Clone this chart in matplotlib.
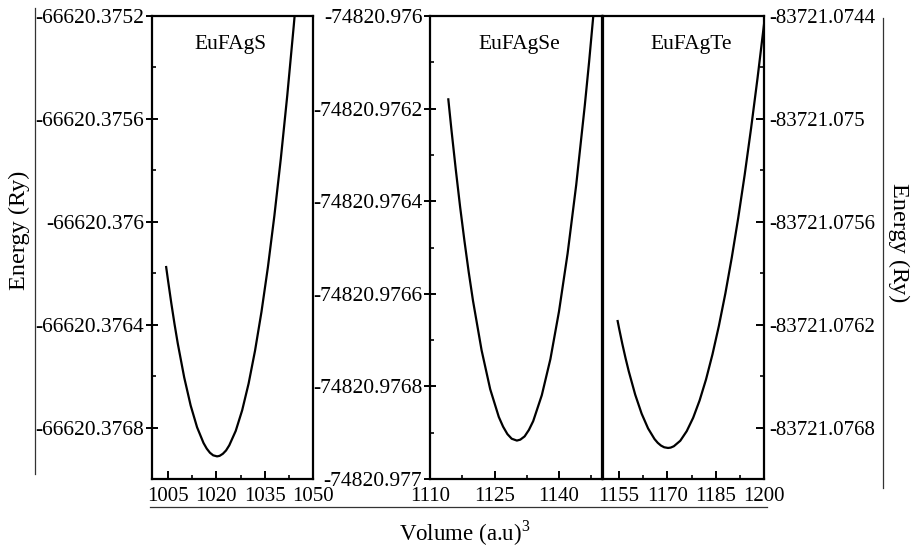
import matplotlib
matplotlib.use('Agg')
import matplotlib.pyplot as plt
from matplotlib.ticker import FixedLocator, FuncFormatter
from matplotlib.lines import Line2D

plt.rcParams['font.family'] = ['Liberation Serif', 'DejaVu Serif']
plt.rcParams['mathtext.fontset'] = 'custom'
plt.rcParams['mathtext.rm'] = 'Liberation Serif'

# EuFAgS
s_volume = [1004.4, 1005, 1006, 1007, 1008, 1010, 1012, 1014, 1016, 1017, 1018, 1019,
            1020.2, 1021, 1022, 1023, 1024, 1026, 1028, 1030, 1032, 1034, 1036, 1038,
            1040, 1042, 1044, 1044.4]
s_energy = [-66620.376176, -66620.376230, -66620.376317, -66620.376398, -66620.376473,
            -66620.376605, -66620.376714, -66620.376799, -66620.376860, -66620.376882,
            -66620.376898, -66620.376908, -66620.376912, -66620.376910, -66620.376902,
            -66620.376889, -66620.376869, -66620.376813, -66620.376733, -66620.376629,
            -66620.376501, -66620.376350, -66620.376176, -66620.375977, -66620.375755,
            -66620.375510, -66620.375241, -66620.375184]

# EuFAgSe
se_volume = [1114.26, 1115, 1116, 1117, 1118, 1119, 1120, 1122, 1124, 1126, 1127, 1128,
             1129, 1130.2, 1131, 1132, 1133, 1134, 1136, 1138, 1140, 1142, 1144, 1146,
             1147, 1148.2]
se_energy = [-74820.976180, -74820.976247, -74820.976332, -74820.976412, -74820.976485,
             -74820.976553, -74820.976615, -74820.976722, -74820.976806, -74820.976866,
             -74820.976887, -74820.976903, -74820.976913, -74820.976917, -74820.976915,
             -74820.976908, -74820.976894, -74820.976875, -74820.976819, -74820.976741,
             -74820.976638, -74820.976513, -74820.976365, -74820.976193, -74820.976099,
             -74820.975977]

# EuFAgTe
te_volume = [1154.55, 1155, 1156, 1157, 1158, 1160, 1162, 1164, 1166, 1167, 1168, 1169,
             1170.2, 1171, 1172, 1174, 1176, 1178, 1180, 1182, 1184, 1186, 1188, 1190,
             1192, 1194, 1196, 1198, 1200]
te_energy = [-83721.076179, -83721.076222, -83721.076312, -83721.076395, -83721.076472,
             -83721.076608, -83721.076719, -83721.076805, -83721.076867, -83721.076889,
             -83721.076905, -83721.076915, -83721.076919, -83721.076917, -83721.076909,
             -83721.076877, -83721.076821, -83721.076743, -83721.076642, -83721.076519,
             -83721.076373, -83721.076206, -83721.076018, -83721.075808, -83721.075577,
             -83721.075326, -83721.075053, -83721.074761, -83721.074449]

names = ['EuFAgS', 'EuFAgSe', 'EuFAgTe']

x_limits = [(1000, 1050), (1110, 1150), (1150, 1200)]
x_major = [[1005, 1020, 1035, 1050], [1110, 1125, 1140], [1155, 1170, 1185, 1200]]
x_minor = [[1012.5, 1027.5, 1042.5], [1117.5, 1132.5, 1147.5], [1162.5, 1177.5, 1192.5]]

y_limits = [(-66620.377, -66620.3752), (-74820.977, -74820.976), (-83721.0771, -83721.0744)]
y_major = [[-66620.3752, -66620.3756, -66620.376, -66620.3764, -66620.3768],
           [-74820.976, -74820.9762, -74820.9764, -74820.9766, -74820.9768, -74820.977],
           [-83721.0744, -83721.075, -83721.0756, -83721.0762, -83721.0768]]
y_minor = [[-66620.3754, -66620.3758, -66620.3762, -66620.3766, -66620.377],
           [-74820.9761, -74820.9763, -74820.9765, -74820.9767, -74820.9769],
           [-83721.0747, -83721.0753, -83721.0759, -83721.0765, -83721.0771]]


def fmt(v, pos):
    s = '%.4f' % v
    return s.rstrip('0').rstrip('.')


W, H = 913, 548
fig = plt.figure(figsize=(W / 100, H / 100), dpi=100)

boxes = [(152, 313), (430, 602), (603, 764)]
top, bottom = 16, 479
series = [(s_volume, s_energy), (se_volume, se_energy), (te_volume, te_energy)]
title_x = [230, 519, 691]

for i, (l, r) in enumerate(boxes):
    ax = fig.add_axes([l / W, 1 - bottom / H, (r - l) / W, (bottom - top) / H])
    vol, en = series[i]
    ax.plot(vol, en, color='black', lw=1.6)
    ax.set_xlim(*x_limits[i])
    ax.set_ylim(*y_limits[i])
    for sp in ax.spines.values():
        sp.set_linewidth(1.6)

    ax.xaxis.set_major_locator(FixedLocator(x_major[i]))
    ax.xaxis.set_minor_locator(FixedLocator(x_minor[i]))
    ax.yaxis.set_major_locator(FixedLocator(y_major[i]))
    ax.yaxis.set_minor_locator(FixedLocator(y_minor[i]))
    ax.yaxis.set_major_formatter(FuncFormatter(fmt))

    ax.tick_params(axis='x', which='major', direction='in', length=5.5, width=1.4,
                   labelsize=15, pad=6, top=False)
    ax.tick_params(axis='x', which='minor', direction='in', length=3, width=1.2, top=False)
    if i == 2:
        ax.yaxis.tick_right()
        ax.tick_params(axis='y', which='major', direction='in', length=5.5, width=1.4,
                       labelsize=15, pad=4, left=False, right=True)
        ax.tick_params(axis='y', which='minor', direction='in', length=3, width=1.2,
                       left=False, right=True)
    else:
        ax.tick_params(axis='y', which='major', direction='inout', length=9, width=1.4,
                       labelsize=15.5, pad=1, right=False)
        ax.tick_params(axis='y', which='minor', direction='in', length=3, width=1.2,
                       right=False)

    fig.text(title_x[i] / W, 1 - 44 / H, names[i], ha='center', va='center', fontsize=15.5)

# decorative axis lines
fig.add_artist(Line2D([35 / W, 35 / W], [1 - 8 / H, 1 - 474 / H], color='#333333', lw=0.9))
fig.add_artist(Line2D([883 / W, 883 / W], [1 - 18 / H, 1 - 488 / H], color='#333333', lw=0.9))
fig.add_artist(Line2D([150 / W, 767 / W], [1 - 507 / H, 1 - 507 / H], color='#333333', lw=0.9))

fig.text(19 / W, 1 - 230 / H, 'Energy (Ry)', rotation=90, ha='center', va='center', fontsize=17.5)
fig.text(899 / W, 1 - 243 / H, 'Energy (Ry)', rotation=-90, ha='center', va='center', fontsize=17.5)
fig.text(465 / W, 1 - 541 / H, 'Volume (a.u)$^{3}$', ha='center', va='baseline', fontsize=16.5)

fig.savefig('out.png', dpi=100)
